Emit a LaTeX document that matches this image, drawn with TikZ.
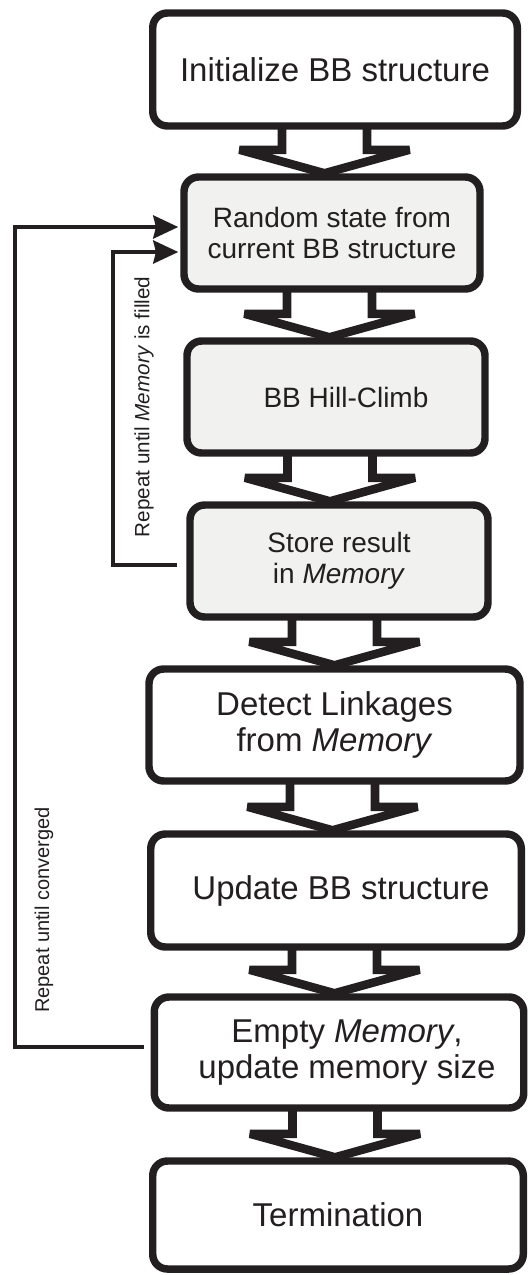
\documentclass[tikz,border=0pt]{standalone}
\usepackage{fontspec}
\setmainfont{Liberation Sans}
\usetikzlibrary{calc,arrows.meta,backgrounds}
\definecolor{ink}{RGB}{35,31,32}
\definecolor{boxgray}{RGB}{241,241,240}
\tikzset{
 box/.style={draw=ink, line width=5.6pt, rounded corners=11pt, fill=white, align=center, text=ink, inner sep=0pt},
 bigbox/.style={box, font=\fontsize{24.75}{27}\selectfont},
 graybox/.style={box, fill=boxgray, font=\fontsize{21}{23.25}\selectfont},
 blockarrow/.style={draw=ink, fill=white, line width=6.4pt, miter limit=2},
 loopline/.style={draw=ink, line width=3pt},
 looptip/.style={-{Stealth[length=18.75pt,width=17.25pt,inset=2pt]}, shorten >=1.5pt},
 looplabel/.style={text=ink, rotate=90, inner sep=0pt},
}
\newcommand\blockarr[3]{%
  \draw[blockarrow]
    (#3-42.5,0 |- #1.center) -- ($(#3-42.5,0 |- #2.north)+(0,-23.5)$)
    -- ($(#3-85,0 |- #2.north)+(0,-23.5)$)
    -- (#3,0 |- #2.north)
    -- ($(#3+85,0 |- #2.north)+(0,-23.5)$)
    -- ($(#3+42.5,0 |- #2.north)+(0,-23.5)$)
    -- (#3+42.5,0 |- #1.center);}
\begin{document}
\begin{tikzpicture}[x=0.75pt,y=-0.75pt]
\useasboundingbox (0,0) rectangle (528,1275);
\node[bigbox, minimum width=273.4pt, minimum height=84.75pt] (b1) at (335,69.5) {Initialize BB structure};
\node[graybox, minimum width=222pt, minimum height=84pt] (b2) at (332,233) {Random state from\\current BB structure};
\node[graybox, minimum width=223.5pt, minimum height=84pt] (b3) at (336,397) {\hspace*{15pt}BB Hill-Climb};
\node[graybox, minimum width=223.5pt, minimum height=84pt] (b4) at (339,561) {Store result\\in \textit{Memory}};
\node[bigbox, minimum width=278.25pt, minimum height=84pt] (b5) at (334.5,725) {Detect Linkages\\from \textit{Memory}};
\node[bigbox, minimum width=277.9pt, minimum height=84.75pt] (b6) at (336,890.5) {\hspace*{7.5pt}Update BB structure};
\node[bigbox, minimum width=277.1pt, minimum height=83.25pt] (b7) at (339,1052.5) {\hspace*{12pt}Empty \textit{Memory},\\\hspace*{12pt}update memory size};
\node[bigbox, minimum width=277.9pt, minimum height=81pt] (b8) at (338,1215) {Termination};
\begin{pgfonlayer}{background}
\blockarr{b1}{b2}{324.5}
\blockarr{b2}{b3}{329.5}
\blockarr{b3}{b4}{330}
\blockarr{b4}{b5}{334.5}
\blockarr{b5}{b6}{332.5}
\blockarr{b6}{b7}{334.5}
\blockarr{b7}{b8}{335}
\end{pgfonlayer}
\draw[loopline, looptip] ($(b7.west)+(-7,-5.5)$) -| (15,227) -- (b2.west |- 15,227);
\draw[loopline, looptip] ($(b4.west)+(-9,4)$) -| (113,252) -- (b2.west |- 113,252);
\node[looplabel, font=\fontsize{15.5}{17}\selectfont] (l1) at (144,407) {Repeat until \textit{Memory} is filled};
\node[looplabel, font=\fontsize{15}{17}\selectfont] (l2) at (44,910) {Repeat until converged};
\end{tikzpicture}
\end{document}
